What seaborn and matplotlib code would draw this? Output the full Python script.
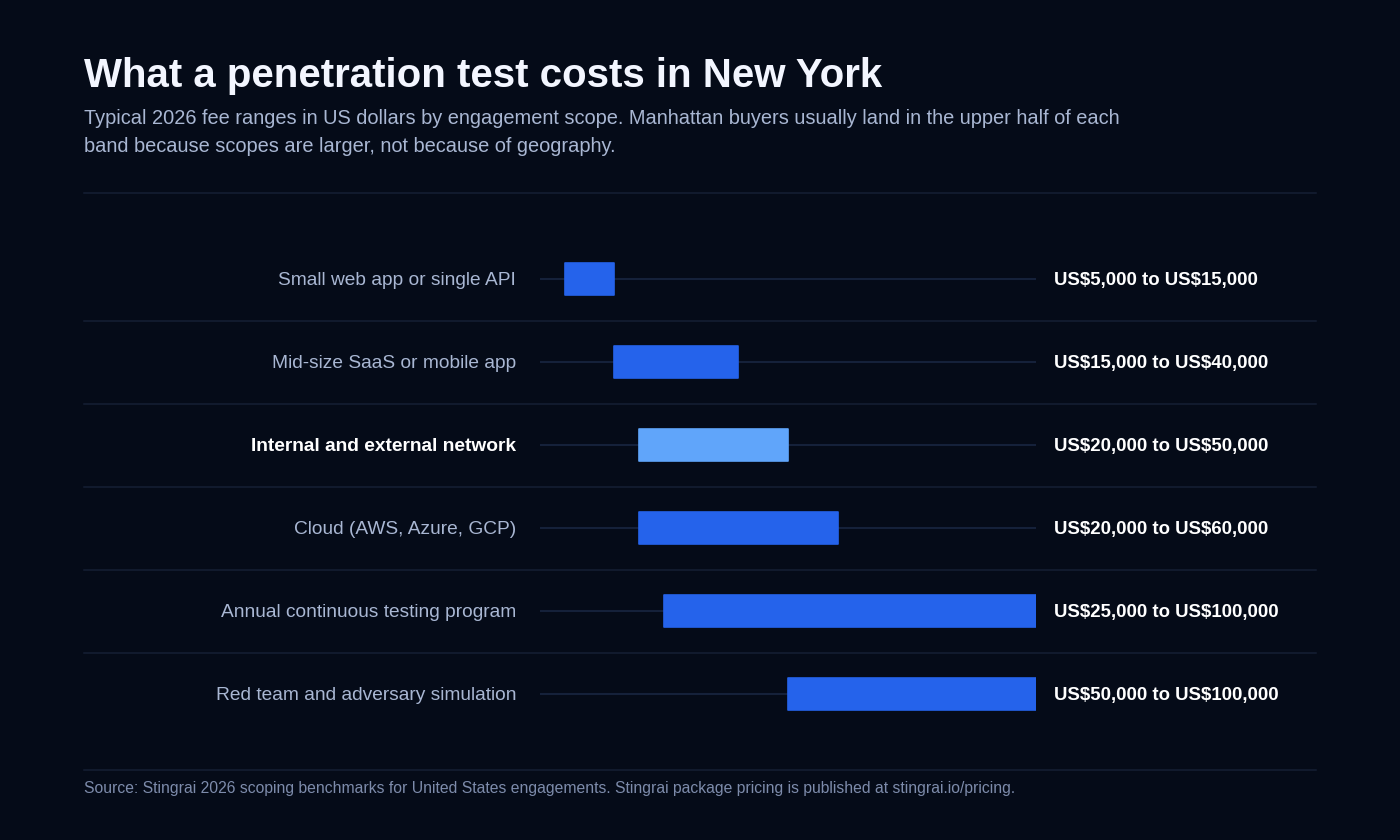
import matplotlib
matplotlib.use("Agg")
import matplotlib.pyplot as plt
import seaborn as sns
import pandas as pd

# data
scopes = [
    "Small web app or single API",
    "Mid-size SaaS or mobile app",
    "Internal and external network",
    "Cloud (AWS, Azure, GCP)",
    "Annual continuous testing program",
    "Red team and adversary simulation",
]
low = [5000, 15000, 20000, 20000, 25000, 50000]
high = [15000, 40000, 50000, 60000, 100000, 100000]
highlight = "Internal and external network"

title = "What a penetration test costs in New York"
subtitle = [
    "Typical 2026 fee ranges in US dollars by engagement scope. Manhattan buyers usually land in the upper half of each",
    "band because scopes are larger, not because of geography.",
]
source = ("Source: Stingrai 2026 scoping benchmarks for United States engagements. "
          "Stingrai package pricing is published at stingrai.io/pricing.")

df = pd.DataFrame({"scope": scopes, "low": low, "high": high})
df["span"] = df["high"] - df["low"]

BG = "#050b18"
BLUE = "#2563eb"
LIGHT = "#60a5fa"
GRID = "#111a2d"
TRACK = "#15213a"
MUTED = "#a9b7d3"

sns.set_theme(style="white")
plt.rcParams["font.family"] = ["Liberation Sans", "DejaVu Sans"]

fig = plt.figure(figsize=(14, 8.4), dpi=100, facecolor=BG)
W, H = 1400, 840
# plot area: x 540..1036 px, y 237.5..735.5 px
ax = fig.add_axes([540 / W, 1 - 735.5 / H, 496 / W, 498 / H])
ax.set_facecolor("none")
ax.set_xlim(0, 100000)
ax.set_ylim(len(df) - 0.5, -0.5)
ax.axis("off")

dy = 0.022  # nudge labels down to sit on row centre
for i, row in df.iterrows():
    ax.axhline(i, 0, 1, color=TRACK, lw=1.5, zorder=1)
    if i < len(df) - 1:
        ax.axhline(i + 0.5, -456 / 496, 776 / 496, color=GRID, lw=1.5,
                   clip_on=False, zorder=1)
    hl = row["scope"] == highlight
    c = LIGHT if hl else BLUE
    ax.barh(i, row["span"], left=row["low"], height=0.39,
            color=c, edgecolor=c, lw=1.2, joinstyle="round", zorder=2)
    ax.text(-24 / 496 * 100000, i + dy, row["scope"], ha="right", va="center",
            fontsize=13.8, color="#ffffff" if hl else MUTED,
            fontweight="bold" if hl else "normal")
    ax.text(1 + 18 / 496, i + dy, f"US\\${row['low']:,} to US\\${row['high']:,}",
            transform=ax.get_yaxis_transform(), ha="left", va="center",
            fontsize=13.4, color="#ffffff", fontweight="bold")

# header / footer
fig.text(84 / W, 1 - 76 / H, title, ha="left", va="center", fontsize=29,
         fontweight="bold", color="#f3f6ff")
for k, line in enumerate(subtitle):
    fig.text(84 / W, 1 - (118 + 28 * k) / H, line, ha="left", va="center",
             fontsize=14.4, color=MUTED)
fig.add_artist(plt.Line2D([84 / W, 1316 / W], [1 - 193 / H] * 2, color=GRID, lw=1.5))
fig.add_artist(plt.Line2D([84 / W, 1316 / W], [1 - 770 / H] * 2, color=GRID, lw=1.5))
fig.text(84 / W, 1 - 789 / H, source, ha="left", va="center", fontsize=11.3,
         color="#7d8bab")

fig.savefig("out.png", dpi=100, facecolor=BG)
